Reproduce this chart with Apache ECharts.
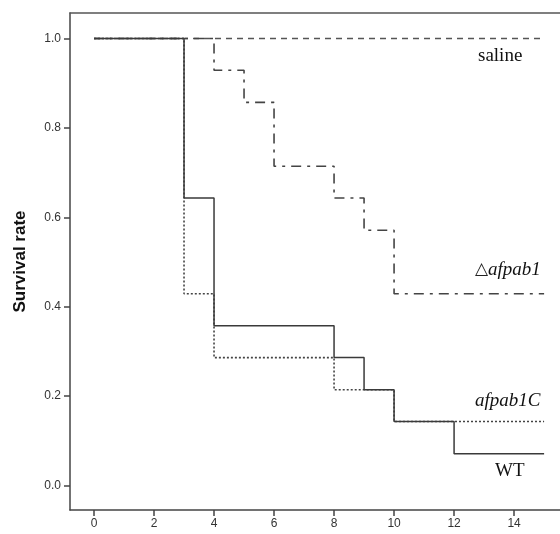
<!DOCTYPE html>
<html>
<head>
<meta charset="utf-8">
<script src="https://cdn.jsdelivr.net/npm/echarts@6/dist/echarts.min.js"></script>
<style>
  html, body { margin: 0; padding: 0; background: #fff; }
  #chart { width: 560px; height: 534px; }
</style>
</head>
<body>
<div id="chart"></div>
<script>
// Kaplan–Meier survival steps: [day, survival fraction]
const salineSteps   = [[0, 1.0], [15, 1.0]];
const deltaSteps    = [[0, 1.0], [4, 0.929], [5, 0.857], [6, 0.714], [8, 0.643], [9, 0.571], [10, 0.429], [15, 0.429]];
const complSteps    = [[0, 1.0], [3, 0.429], [4, 0.286], [8, 0.214], [10, 0.143], [15, 0.143]];
const wtSteps       = [[0, 1.0], [3, 0.643], [4, 0.357], [8, 0.286], [9, 0.214], [10, 0.143], [12, 0.071], [15, 0.071]];

const xTicks = [0, 2, 4, 6, 8, 10, 12, 14];
const yTicks = [0.0, 0.2, 0.4, 0.6, 0.8, 1.0];

const ink = '#3a3a3a';
const serif = '"Liberation Serif", "DejaVu Serif", serif';
const sans = '"Liberation Sans", Arial, sans-serif';
const xMin = -0.8, xMax = 15.53;

function stepSeries(name, data, type, width, color) {
  return {
    name: name,
    type: 'line',
    step: 'end',
    data: data,
    symbol: 'none',
    silent: true,
    xAxisIndex: 0,
    lineStyle: { color: color, width: width, type: type, cap: 'butt' }
  };
}

const chart = echarts.init(document.getElementById('chart'), null, { renderer: 'canvas' });

chart.setOption({
  animation: false,
  backgroundColor: '#fff',
  grid: { left: 70, right: 0, top: 13, bottom: 24, show: false },
  xAxis: [
    {
      type: 'value',
      position: 'bottom',
      min: xMin, max: xMax,
      axisLine: { show: true, onZero: false, lineStyle: { color: '#444', width: 1.5 } },
      axisTick: { show: true, customValues: xTicks, length: 6, lineStyle: { color: '#444', width: 1.5 } },
      axisLabel: {
        customValues: xTicks, margin: 8, color: '#333',
        fontFamily: sans, fontSize: 12
      },
      splitLine: { show: false }
    },
    {
      // top frame edge
      type: 'value',
      position: 'top',
      min: xMin, max: xMax,
      axisLine: { show: true, onZero: false, lineStyle: { color: '#555', width: 1.5 } },
      axisTick: { show: false },
      axisLabel: { show: false },
      splitLine: { show: false }
    }
  ],
  yAxis: {
    type: 'value',
    min: -0.055, max: 1.057,
    name: 'Survival rate',
    nameLocation: 'middle',
    nameGap: 41,
    nameTextStyle: {
      color: '#111', fontFamily: sans,
      fontSize: 17, fontWeight: 'bold'
    },
    axisLine: { show: true, onZero: false, lineStyle: { color: '#444', width: 1.5 } },
    axisTick: { show: true, customValues: yTicks, length: 6, lineStyle: { color: '#444', width: 1.5 } },
    axisLabel: {
      customValues: yTicks, margin: 9, color: '#333',
      fontFamily: sans, fontSize: 12,
      formatter: v => v.toFixed(1)
    },
    splitLine: { show: false }
  },
  series: [
    stepSeries('saline', salineSteps, [6, 5], 1.6, '#555'),
    stepSeries('△afpab1', deltaSteps, [10, 6, 3, 6], 1.6, '#444'),
    stepSeries('afpab1C', complSteps, [2, 2], 1.6, '#444'),
    stepSeries('WT', wtSteps, 'solid', 1.5, ink)
  ],
  graphic: [
    {
      type: 'text', left: 478, top: 47,
      style: { text: 'saline', fill: '#111', font: '19px ' + serif }
    },
    {
      type: 'text', left: 475, top: 260,
      style: {
        text: '{tri|△}{it|afpab1}',
        rich: {
          tri: { fill: '#222', font: '17px "DejaVu Sans", sans-serif' },
          it: { fill: '#111', font: 'italic 19px ' + serif }
        }
      }
    },
    {
      type: 'text', left: 475, top: 391,
      style: { text: 'afpab1C', fill: '#111', font: 'italic 19px ' + serif }
    },
    {
      type: 'text', left: 495, top: 462,
      style: { text: 'WT', fill: '#111', font: '19px ' + serif }
    }
  ]
});
</script>
</body>
</html>
